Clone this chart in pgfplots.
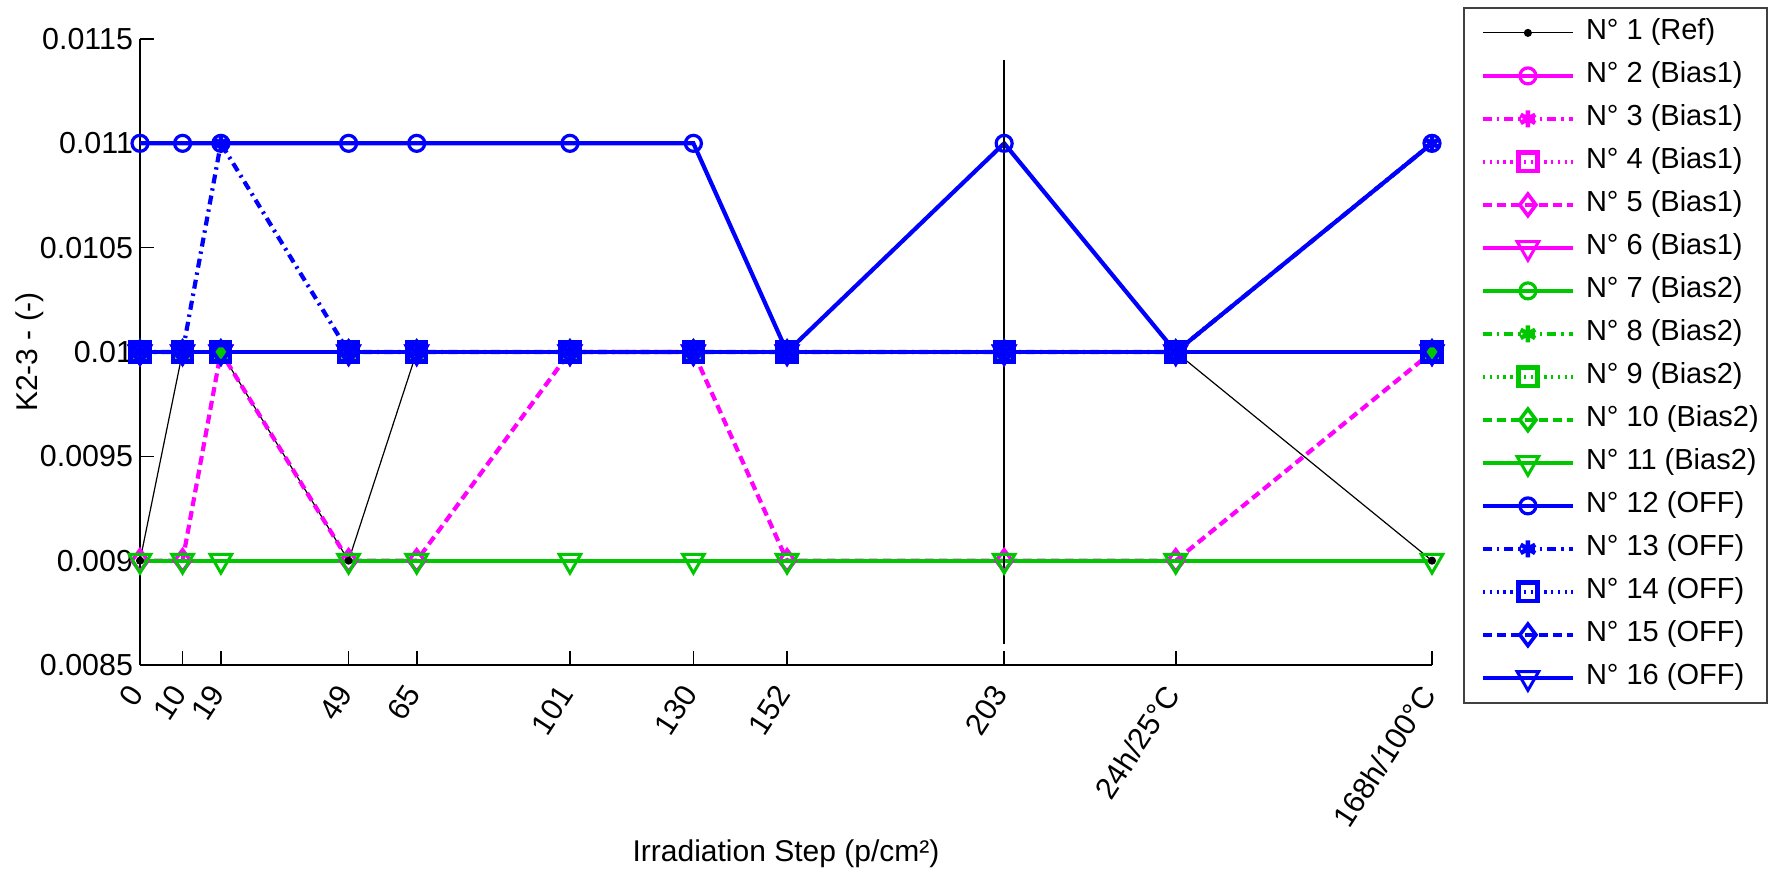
\documentclass[border=0pt]{standalone}
\usepackage{fontspec}
\setmainfont{Liberation Sans}
\usepackage{pgfplots}
\usepackage{pgfplotstable}
\pgfplotsset{compat=1.18}
\definecolor{mg}{rgb}{1,0,1}
\definecolor{gr}{rgb}{0,0.78,0}
\definecolor{bl}{rgb}{0,0,1}
\tikzset{
  lw/.style={line width=2.1pt},
  mO/.style={mark=o, mark size=4pt, mark options={solid, line width=1.6pt}},
  mS/.style={mark=asterisk, mark size=4.2pt, mark options={solid, line width=2.2pt}},
  mQ/.style={mark=square, mark size=4.7pt, mark options={solid, line width=2.2pt}},
  mD/.style={mark=diamond, mark size=5.4pt, mark options={solid, line width=1.8pt}},
  mV/.style={mark=triangle, mark size=6.2pt, mark options={solid, rotate=180, line width=1.5pt}},
  dsh/.style={dash pattern=on 4.5pt off 2.5pt},
  dt/.style={dash pattern=on 1.2pt off 2.2pt},
  dd/.style={dash pattern=on 4.5pt off 2.5pt on 1.2pt off 2.5pt},
}
\pgfplotstableread{
x s1 s2 s3 s4 s5 s6 s7 s8 s9 s10 s11 s12 s13 s14 s15 s16
0 0.009 0.01 0.01 0.01 0.009 0.01 0.01 0.01 0.01 0.01 0.009 0.011 0.01 0.01 0.01 0.01
10 0.01 0.01 0.01 0.01 0.009 0.01 0.01 0.01 0.01 0.01 0.009 0.011 0.01 0.01 0.01 0.01
19 0.01 0.01 0.01 0.01 0.01 0.01 0.01 0.01 0.01 0.01 0.009 0.011 0.011 0.01 0.01 0.01
49 0.009 0.01 0.01 0.01 0.009 0.01 0.01 0.01 0.01 0.01 0.009 0.011 0.01 0.01 0.01 0.01
65 0.01 0.01 0.01 0.01 0.009 0.01 0.01 0.01 0.01 0.01 0.009 0.011 0.01 0.01 0.01 0.01
101 0.01 0.01 0.01 0.01 0.01 0.01 0.01 0.01 0.01 0.01 0.009 0.011 0.01 0.01 0.01 0.01
130 0.01 0.01 0.01 0.01 0.01 0.01 0.01 0.01 0.01 0.01 0.009 0.011 0.01 0.01 0.01 0.01
152 0.01 0.01 0.01 0.01 0.009 0.01 0.01 0.01 0.01 0.01 0.009 0.01 0.01 0.01 0.01 0.01
203 0.01 0.01 0.01 0.01 0.009 0.01 0.01 0.01 0.01 0.01 0.009 0.011 0.01 0.01 0.01 0.01
243.3 0.01 0.01 0.01 0.01 0.009 0.01 0.01 0.01 0.01 0.01 0.009 0.01 0.01 0.01 0.01 0.01
303.5 0.009 0.01 0.01 0.01 0.01 0.01 0.01 0.01 0.01 0.01 0.009 0.011 0.011 0.01 0.01 0.01
}\data
\begin{document}
\begin{tikzpicture}
\begin{axis}[
  scale only axis, width=646pt, height=313pt,
  xmin=0, xmax=303.5, ymin=0.0085, ymax=0.0115,
  clip=false, scaled y ticks=false, scaled x ticks=false,
  axis lines*=left, axis line style={-, line width=0.8pt},
  tick align=inside, major tick length=7pt, tick style={line width=0.8pt, black},
  xtick={0,10,19,49,65,101,130,152,203,243.3,303.5},
  xticklabels={0,10,19,49,65,101,130,152,203,24h/25°C,168h/100°C},
  ytick={0.0085,0.009,0.0095,0.01,0.0105,0.011,0.0115},
  yticklabels={0.0085,0.009,0.0095,0.01,0.0105,0.011,0.0115},
  ticklabel style={font=\fontsize{15.2}{17}\selectfont},
  xticklabel style={rotate=57, anchor=east},
  xticklabel shift=9pt,
  label style={font=\fontsize{15}{17}\selectfont},
  xlabel={Irradiation Step (p/cm²)},
  ylabel={K2-3 - (-)},
  xlabel style={at={(axis description cs:0.5,-0.302)}, anchor=center},
  ylabel style={at={(axis description cs:-0.0851,0.5)}, anchor=center},
  legend style={at={(axis description cs:1.024,1.051)}, anchor=north west,
    draw=black!75, line width=0.8pt, fill=white, inner xsep=4pt, inner ysep=5.5pt,
    row sep=7.5pt, column sep=5.5pt, font=\fontsize{14.5}{17}\selectfont,
    nodes={inner sep=0pt, text height=10.5pt, text depth=3.5pt}},
  legend cell align=left,
  legend image code/.code={\path (-4.5pt,0pt); \draw[mark repeat=2, mark phase=2, #1] plot coordinates {(0pt,0pt) (22.5pt,0pt) (45pt,0pt)};},
]
\addplot[black, line width=0.6pt, mark=*, mark size=1.7pt, mark options={solid}] table[y=s1]{\data};
\addlegendentry{N° 1 (Ref)}
\addplot[mg, lw, solid, mO] table[y=s2]{\data};
\addlegendentry{N° 2 (Bias1)}
\addplot[mg, lw, dd, mS] table[y=s3]{\data};
\addlegendentry{N° 3 (Bias1)}
\addplot[mg, lw, dt, mQ] table[y=s4]{\data};
\addlegendentry{N° 4 (Bias1)}
\addplot[mg, lw, dsh, mD] table[y=s5]{\data};
\addlegendentry{N° 5 (Bias1)}
\addplot[mg, lw, solid, mV] table[y=s6]{\data};
\addlegendentry{N° 6 (Bias1)}
\addplot[gr, lw, solid, mO] table[y=s7]{\data};
\addlegendentry{N° 7 (Bias2)}
\addplot[gr, lw, dd, mS] table[y=s8]{\data};
\addlegendentry{N° 8 (Bias2)}
\addplot[gr, lw, dt, mQ] table[y=s9]{\data};
\addlegendentry{N° 9 (Bias2)}
\addplot[gr, lw, dsh, mD] table[y=s10]{\data};
\addlegendentry{N° 10 (Bias2)}
\addplot[gr, lw, solid, mV] table[y=s11]{\data};
\addlegendentry{N° 11 (Bias2)}
\addplot[bl, lw, solid, mO] table[y=s12]{\data};
\addlegendentry{N° 12 (OFF)}
\addplot[bl, lw, dd, mS] table[y=s13]{\data};
\addlegendentry{N° 13 (OFF)}
\addplot[bl, lw, dt, mQ] table[y=s14]{\data};
\addlegendentry{N° 14 (OFF)}
\addplot[bl, lw, dsh, mD] table[y=s15]{\data};
\addlegendentry{N° 15 (OFF)}
\addplot[bl, lw, solid, mV] table[y=s16]{\data};
\addlegendentry{N° 16 (OFF)}
\addplot[black, line width=0.7pt, forget plot] coordinates {(203,0.0086) (203,0.0114)};
\end{axis}
\pgfresetboundingbox
\path[use as bounding box] (-70pt,-103.5pt) rectangle (814.5pt,332.5pt);
\end{tikzpicture}
\end{document}
